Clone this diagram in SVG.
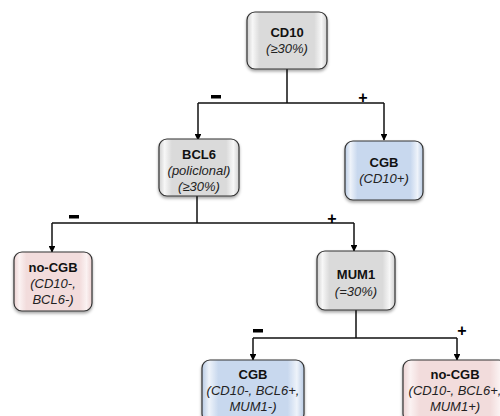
<svg xmlns="http://www.w3.org/2000/svg" width="500" height="416" viewBox="0 0 500 416">
<defs>
<linearGradient id="gGray" x1="0" y1="0" x2="1" y2="0">
<stop offset="0" stop-color="#cfcfcf"/><stop offset="0.07" stop-color="#f7f7f7"/><stop offset="0.16" stop-color="#dadada"/><stop offset="0.84" stop-color="#dadada"/><stop offset="0.93" stop-color="#f7f7f7"/><stop offset="1" stop-color="#cfcfcf"/>
</linearGradient>
<linearGradient id="gBlue" x1="0" y1="0" x2="1" y2="0">
<stop offset="0" stop-color="#b9cbe4"/><stop offset="0.07" stop-color="#eef3fa"/><stop offset="0.16" stop-color="#c8d8ee"/><stop offset="0.84" stop-color="#c8d8ee"/><stop offset="0.93" stop-color="#eef3fa"/><stop offset="1" stop-color="#b9cbe4"/>
</linearGradient>
<linearGradient id="gPink" x1="0" y1="0" x2="1" y2="0">
<stop offset="0" stop-color="#ecd2d2"/><stop offset="0.07" stop-color="#fbf2f2"/><stop offset="0.16" stop-color="#f2dcdc"/><stop offset="0.84" stop-color="#f2dcdc"/><stop offset="0.93" stop-color="#fbf2f2"/><stop offset="1" stop-color="#ecd2d2"/>
</linearGradient>
<filter id="sh" x="-10%" y="-10%" width="130%" height="130%">
<feDropShadow dx="0" dy="2" stdDeviation="1.5" flood-color="#000" flood-opacity="0.35"/>
</filter>
<marker id="arr" viewBox="0 0 10 10" refX="9" refY="5" markerWidth="4.5" markerHeight="4.5" orient="auto">
<path d="M0,0 L10,5 L0,10 z" fill="#000"/>
</marker>
</defs>
<style>
.box{stroke:#333;stroke-width:1.2;filter:url(#sh)}
.gray{fill:url(#gGray)}
.blue{fill:url(#gBlue)}
.pink{fill:url(#gPink)}
.t{font-family:"Liberation Sans",Arial,sans-serif;font-size:13px;text-anchor:middle;fill:#111}
.b{font-weight:bold}
.i{font-style:italic;fill:#222}
.c{fill:none;stroke:#111;stroke-width:1.5}
.sign{font-family:"Liberation Sans",Arial,sans-serif;font-size:16px;font-weight:bold;text-anchor:middle;fill:#000}
</style>
<g id="connectors">
<path class="c" d="M287,69 V103 M198,103 H384"/>
<path class="c" d="M198,103 V140" marker-end="url(#arr)"/>
<path class="c" d="M384,103 V140" marker-end="url(#arr)"/>
<path class="c" d="M197,196 V223 M52,223 H354"/>
<path class="c" d="M52,223 V252" marker-end="url(#arr)"/>
<path class="c" d="M354,223 V251" marker-end="url(#arr)"/>
<path class="c" d="M356,310 V338 M253,338 H457"/>
<path class="c" d="M253,338 V360" marker-end="url(#arr)"/>
<path class="c" d="M457,338 V360" marker-end="url(#arr)"/>
<rect x="211" y="95" width="10" height="3.5" fill="#000"/>
<text class="sign" x="363" y="103">+</text>
<rect x="69" y="215" width="10" height="3.5" fill="#000"/>
<text class="sign" x="332" y="224">+</text>
<rect x="253" y="329" width="10" height="3.5" fill="#000"/>
<text class="sign" x="462" y="336">+</text>
</g>
<g id="cd10">
<rect class="box gray" x="247" y="12" width="80" height="57" rx="8"/>
<text class="t b" x="287" y="37">CD10</text>
<text class="t i" x="287" y="53">(≥30%)</text>
</g>
<g id="bcl6">
<rect class="box gray" x="159" y="139" width="80" height="57" rx="8"/>
<text class="t b" x="199" y="159">BCL6</text>
<text class="t i" x="199" y="175">(policlonal)</text>
<text class="t i" x="199" y="191">(≥30%)</text>
</g>
<g id="cgb1">
<rect class="box blue" x="345" y="141" width="78" height="59" rx="8"/>
<text class="t b" x="384" y="167">CGB</text>
<text class="t i" x="384" y="183">(CD10+)</text>
</g>
<g id="nocgb1">
<rect class="box pink" x="14" y="252" width="78" height="59" rx="8"/>
<text class="t b" x="53" y="272">no-CGB</text>
<text class="t i" x="53" y="288">(CD10-,</text>
<text class="t i" x="53" y="304">BCL6-)</text>
</g>
<g id="mum1">
<rect class="box gray" x="317" y="251" width="78" height="59" rx="8"/>
<text class="t b" x="356" y="279">MUM1</text>
<text class="t i" x="356" y="296">(=30%)</text>
</g>
<g id="cgb2">
<rect class="box blue" x="202" y="360" width="102" height="62" rx="8"/>
<text class="t b" x="253" y="379">CGB</text>
<text class="t i" x="253" y="395">(CD10-, BCL6+,</text>
<text class="t i" x="253" y="411">MUM1-)</text>
</g>
<g id="nocgb2">
<rect class="box pink" x="403" y="360" width="104" height="62" rx="8"/>
<text class="t b" x="455" y="379">no-CGB</text>
<text class="t i" x="455" y="395">(CD10-, BCL6+,</text>
<text class="t i" x="455" y="411">MUM1+)</text>
</g>
</svg>
